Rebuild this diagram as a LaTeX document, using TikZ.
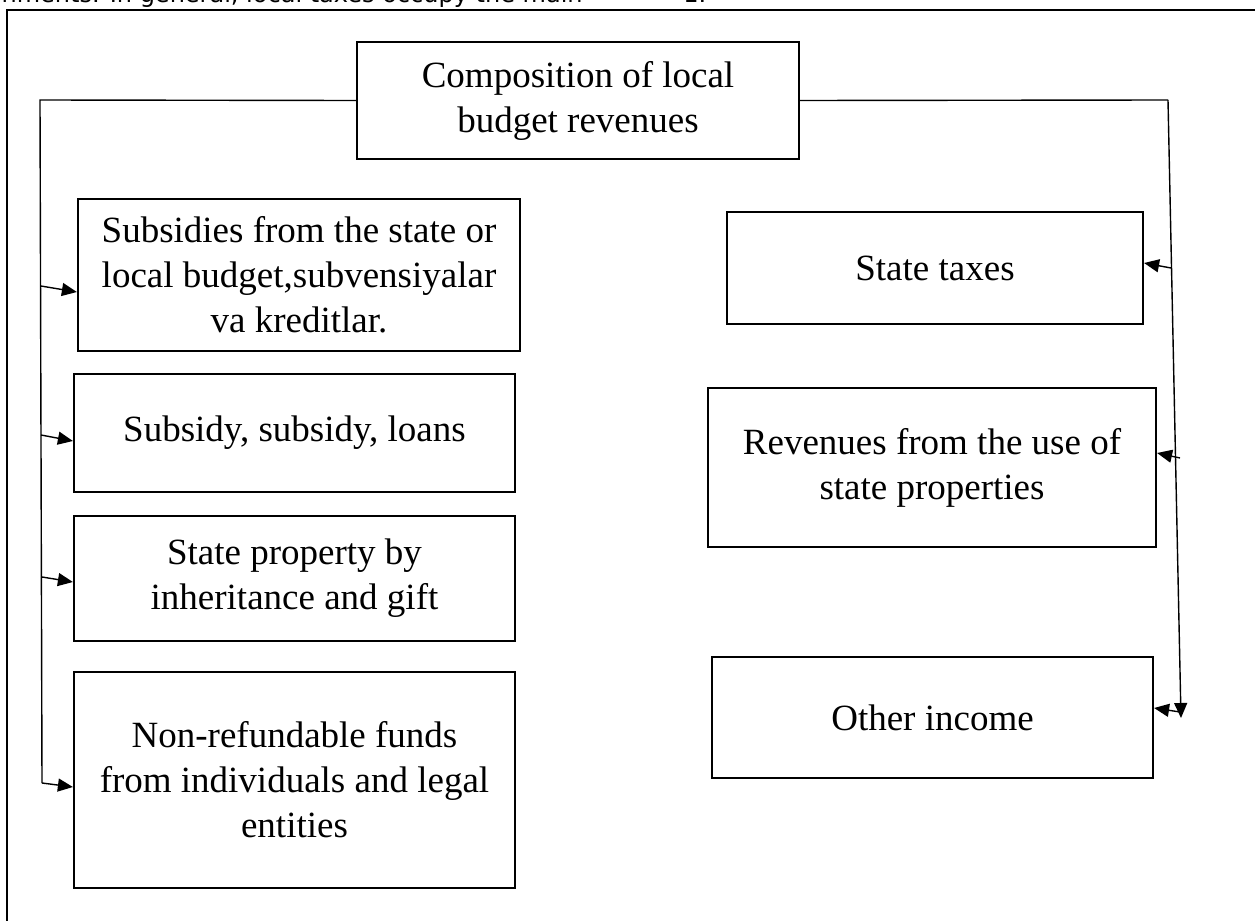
\documentclass[tikz,border=0pt]{standalone}
\usepackage{fontspec}
\setmainfont{Liberation Serif}
\newfontfamily\cutfont{DejaVu Sans}
\usetikzlibrary{arrows.meta}

\begin{document}
\begin{tikzpicture}[x=0.5pt, y=-0.5pt,
  every node/.style = {draw=none, align=center, inner sep=0pt},
  box/.style = {draw, line width=1.1pt, font=\fontsize{18.5}{22.5}\selectfont},
  link/.style = {line width=0.7pt},
  arr/.style = {link, -{Triangle[length=7.5pt, width=6.5pt]}}]
  \useasboundingbox (0,0) rectangle (1255,921);
  \clip (0,0) rectangle (1255,921);
  \draw[line width=1.2pt] (7,10) rectangle (1300,960);
  \node[anchor=base east, font=\cutfont\fontsize{12}{14}\selectfont] (cut) at (583,2.5) {nments. In general, local taxes occupy the main};
  \node[anchor=base west, font=\cutfont\fontsize{12}{14}\selectfont] (num) at (683,2.5) {1.};

  \node[box, minimum width=221pt, minimum height=58.5pt] (top) at (578,100.5) {Composition of local\\budget revenues};

  \node[box, minimum width=221pt, minimum height=76pt] (b1) at (299,275) {Subsidies from the state or\\local budget,subvensiyalar\\va kreditlar.};
  \node[box, minimum width=220.5pt, minimum height=59pt] (b2) at (294.5,433) {Subsidy, subsidy, loans};
  \node[box, minimum width=220.5pt, minimum height=62.5pt] (b3) at (294.5,578.5) {State property by\\inheritance and gift};
  \node[box, minimum width=220.5pt, minimum height=108pt] (b4) at (294.5,780) {Non-refundable funds\\from individuals and legal\\entities};

  \node[box, minimum width=208pt, minimum height=56pt] (st) at (935,268) {State taxes};
  \node[box, minimum width=224pt, minimum height=79.5pt] (rv) at (932,467.5) {Revenues from the use of\\state properties};
  \node[box, minimum width=220.5pt, minimum height=60.5pt] (oi) at (932.5,717.5) {Other income};

  \coordinate (ltop) at (40,100);
  \coordinate (lbot) at (42,783);
  \coordinate (l1) at (41,286);
  \coordinate (l2) at (41,435);
  \coordinate (l3) at (42,577);
  \draw[link] (top.west) -- (ltop) -- (lbot);
  \draw[arr] (l1) -- ([yshift=-8.5pt]b1.west);
  \draw[arr] (l2) -- ([yshift=-4pt]b2.west);
  \draw[arr] (l3) -- ([yshift=-1.75pt]b3.west);
  \draw[arr] (lbot) -- ([yshift=-3.5pt]b4.west);

  \coordinate (rtop) at (1168,100);
  \coordinate (rbot) at (1181,718);
  \coordinate (r1) at (1171,268);
  \coordinate (r2) at (1180,458);
  \coordinate (r3) at (1180,712);
  \draw[link] (top.east) -- (rtop);
  \draw[arr] (rtop) -- (rbot);
  \draw[arr] (r1) -- ([yshift=2.5pt]st.east);
  \draw[arr] (r2) -- ([yshift=7.25pt]rv.east);
  \draw[arr] (r3) -- ([yshift=4.75pt]oi.east);
\end{tikzpicture}
\end{document}
